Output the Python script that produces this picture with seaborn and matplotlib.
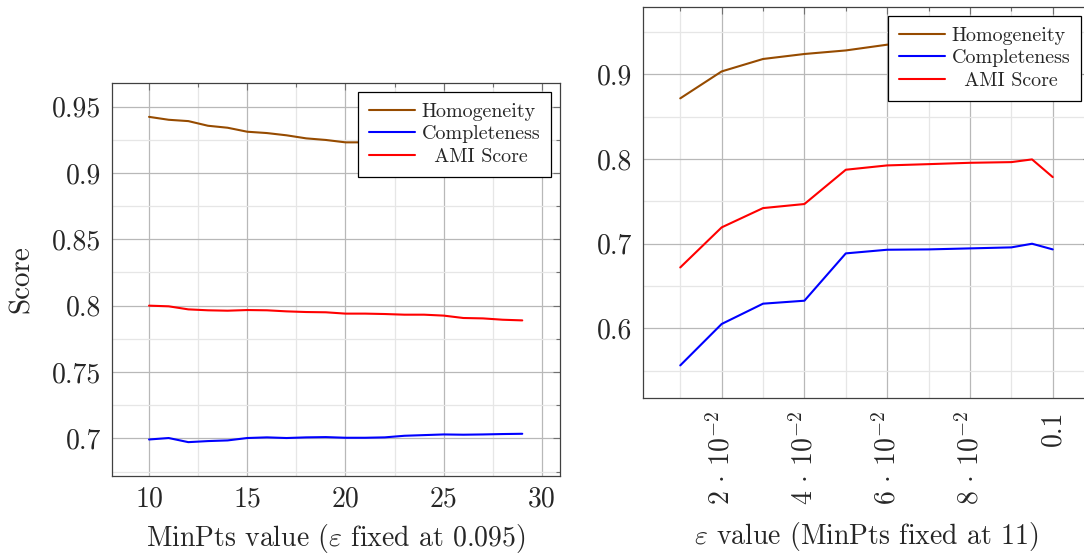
import numpy as np
import pandas as pd
import matplotlib
matplotlib.use("Agg")
import matplotlib.pyplot as plt
from matplotlib.ticker import MultipleLocator, FixedLocator
import seaborn as sns

# ---------------- data ----------------
minpts = [10, 11, 12, 13, 14, 15, 16, 17, 18, 19, 20, 21, 22, 23, 24, 25, 26, 27, 28, 29]
left_homogeneity = [0.9422, 0.9400, 0.9390, 0.9355, 0.9340, 0.9310, 0.9300, 0.9283, 0.9260, 0.9248,
                    0.9230, 0.9230, 0.9220, 0.9210, 0.9200, 0.9190, 0.9180, 0.9170, 0.9160, 0.9150]
left_completeness = [0.6992, 0.7003, 0.6972, 0.6980, 0.6985, 0.7003, 0.7008, 0.7003, 0.7008, 0.7010,
                     0.7005, 0.7005, 0.7008, 0.7020, 0.7025, 0.7030, 0.7028, 0.7030, 0.7033, 0.7035]
left_ami = [0.8000, 0.7995, 0.7972, 0.7965, 0.7962, 0.7967, 0.7965, 0.7957, 0.7952, 0.7950,
            0.7940, 0.7940, 0.7937, 0.7932, 0.7932, 0.7925, 0.7907, 0.7904, 0.7894, 0.7889]

eps = [0.01, 0.02, 0.03, 0.04, 0.05, 0.06, 0.07, 0.08, 0.09, 0.095, 0.1]
right_homogeneity = [0.8717, 0.9035, 0.9182, 0.9241, 0.9283, 0.9351, 0.9370, 0.9390, 0.9400, 0.9410, 0.9400]
right_completeness = [0.5563, 0.6052, 0.6292, 0.6327, 0.6886, 0.6929, 0.6933, 0.6945, 0.6957, 0.7000, 0.6933]
right_ami = [0.6720, 0.7193, 0.7421, 0.7469, 0.7874, 0.7925, 0.7940, 0.7956, 0.7964, 0.7996, 0.7787]

metrics = ["Homogeneity", "Completeness", "AMI Score"]
legend_labels = ["Homogeneity", "Completeness", "  AMI Score"]
colors = ["#964B00", "#0000FF", "#FF0000"]

left_y_ticks = [0.7, 0.75, 0.8, 0.85, 0.9, 0.95]
left_y_labels = ["0.7", "0.75", "0.8", "0.85", "0.9", "0.95"]
left_x_ticks = [10, 15, 20, 25, 30]
right_y_ticks = [0.6, 0.7, 0.8, 0.9]
right_y_labels = ["0.6", "0.7", "0.8", "0.9"]
right_x_ticks = [0.02, 0.04, 0.06, 0.08, 0.1]
right_x_labels = [r"$2\,\cdot\,10^{-2}$", r"$4\,\cdot\,10^{-2}$", r"$6\,\cdot\,10^{-2}$",
                  r"$8\,\cdot\,10^{-2}$", "0.1"]

# ---------------- style ----------------
sns.set_style("white")
plt.rcParams["font.family"] = ["cmr10", "DejaVu Serif"]
plt.rcParams["mathtext.fontset"] = "cm"
plt.rcParams["axes.formatter.use_mathtext"] = True
plt.rcParams["axes.unicode_minus"] = False

fig = plt.figure(figsize=(10.84, 5.54), dpi=100)
axL = fig.add_axes([112 / 1084, (554 - 476) / 554, (560 - 112) / 1084, (476 - 83) / 554])
axR = fig.add_axes([643 / 1084, (554 - 398) / 554, (1090 - 643) / 1084, (398 - 7) / 554])

dfL = pd.DataFrame({
    "x": minpts * 3,
    "score": left_homogeneity + left_completeness + left_ami,
    "metric": sum([[m] * len(minpts) for m in metrics], []),
})
dfR = pd.DataFrame({
    "x": eps * 3,
    "score": right_homogeneity + right_completeness + right_ami,
    "metric": sum([[m] * len(eps) for m in metrics], []),
})

pal = dict(zip(metrics, colors))
for ax, df in [(axL, dfL), (axR, dfR)]:
    sns.lineplot(data=df, x="x", y="score", hue="metric", hue_order=metrics, palette=pal,
                 ax=ax, legend=False, linewidth=1.5, zorder=3)

def style_axis(ax):
    for s in ax.spines.values():
        s.set_color("#404040")
        s.set_linewidth(0.9)
        s.set_zorder(5)
    ax.tick_params(which="both", direction="in", top=True, right=True, color="#707070",
                   labelsize=20, width=0.8)
    ax.tick_params(which="major", length=5, pad=8)
    ax.tick_params(which="minor", length=3)
    ax.grid(which="major", color="#b8b8b8", linewidth=0.9, zorder=0)
    ax.grid(which="minor", color="#e6e6e6", linewidth=0.9, zorder=0)
    ax.set_axisbelow(True)

# left
axL.set_xlim(8.115, 30.92)
axL.set_ylim(0.6717, 0.9677)
axL.xaxis.set_major_locator(FixedLocator(left_x_ticks))
axL.xaxis.set_minor_locator(MultipleLocator(2.5))
axL.yaxis.set_major_locator(FixedLocator(left_y_ticks))
axL.set_yticklabels(left_y_labels)
axL.yaxis.set_minor_locator(MultipleLocator(0.025))
axL.set_xticklabels([str(v) for v in left_x_ticks])
style_axis(axL)
axL.tick_params(axis="x", which="major", pad=7)
axL.set_xlabel(r"MinPts value ($\varepsilon$ fixed at 0.095)", fontsize=20)
axL.set_ylabel("Score", fontsize=21)
axL.xaxis.set_label_coords(0.5, -0.117)
axL.xaxis.label.set_va("top")
axL.yaxis.set_label_coords(-0.172, 0.5)

# right
axR.set_xlim(0.001, 0.109)
axR.set_ylim(0.5178, 0.9796)
axR.xaxis.set_major_locator(FixedLocator(right_x_ticks))
axR.set_xticklabels(right_x_labels, rotation=90)
axR.xaxis.set_minor_locator(FixedLocator([0.01, 0.03, 0.05, 0.07, 0.09]))
axR.yaxis.set_major_locator(FixedLocator(right_y_ticks))
axR.set_yticklabels(right_y_labels)
axR.yaxis.set_minor_locator(FixedLocator([0.55, 0.65, 0.75, 0.85, 0.95]))
style_axis(axR)
axR.tick_params(axis="x", which="major", pad=9)
axR.set_xlabel(r"$\varepsilon$ value (MinPts fixed at 11)", fontsize=20)
axR.xaxis.set_label_coords((866 - 643) / 447, -0.313)
axR.xaxis.label.set_va("top")
axR.set_ylabel("")

for ax in (axL, axR):
    handles = ax.get_lines()[:3]
    leg = ax.legend(handles, legend_labels, loc="upper right", bbox_to_anchor=(0.98, 0.977),
                    borderaxespad=0, fontsize=14.4, frameon=True, fancybox=False,
                    framealpha=1, edgecolor="black", handlelength=2.3, handletextpad=0.3,
                    labelspacing=0.22, borderpad=0.55)
    leg.get_frame().set_linewidth(0.9)
    leg.set_zorder(10)

fig.savefig("out.png", dpi=100)
